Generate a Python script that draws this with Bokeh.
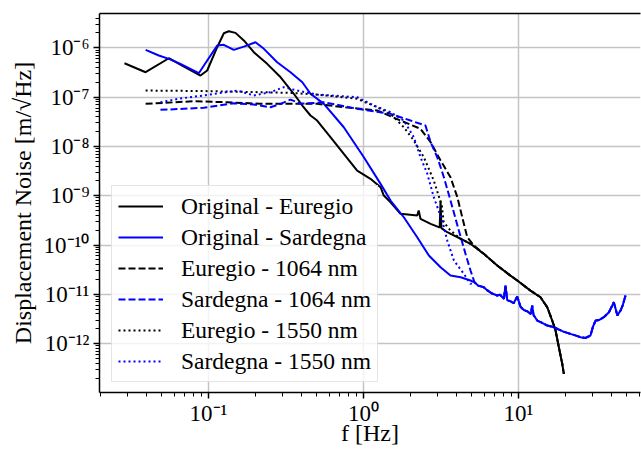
from bokeh.plotting import figure
from bokeh.models import FixedTicker, CustomJSTickFormatter, LogAxis, Range1d
from bokeh.embed import file_html
from bokeh.resources import INLINE

# ---------------- data ----------------
EU_ORIG_F = [0.0287, 0.0393, 0.0555, 0.0676, 0.0888, 0.0981, 0.1138, 0.1256, 0.1352, 0.1493,
             0.169, 0.196, 0.239, 0.292, 0.355, 0.403, 0.455, 0.502, 0.612, 0.746, 0.910,
             1.109, 1.288, 1.352, 1.494, 1.733, 2.22, 2.27, 2.33, 2.71, 3.06, 3.10, 3.14,
             3.18, 3.47, 4.23, 4.90]
EU_ORIG_N = [4.87e-7, 3.20e-7, 6.15e-7, 4.37e-7, 2.74e-7, 3.47e-7, 1.03e-6, 1.98e-6, 2.17e-6, 2.01e-6,
             1.41e-6, 8.15e-7, 4.73e-7, 2.53e-7, 1.17e-7, 6.76e-8, 4.24e-8, 3.35e-8, 1.54e-8, 7.08e-9, 3.24e-9,
             2.20e-9, 1.49e-9, 1.01e-9, 7.38e-10, 4.30e-10, 3.96e-10, 5.0e-10, 3.40e-10, 2.69e-10, 2.30e-10, 2.28e-10, 8.0e-10,
             2.2e-10, 1.82e-10, 1.34e-10, 1.06e-10]
EU_TAIL_F = [5.97, 7.29, 8.87, 9.81, 11.94, 13.86, 15.32, 16.49, 17.33, 18.20, 19.14, 19.6]
EU_TAIL_N = [6.62e-11, 3.84e-11, 2.40e-11, 1.91e-11, 1.19e-11, 8.73e-12, 5.47e-12, 2.94e-12,
             1.85e-12, 8.45e-13, 3.89e-13, 2.44e-13]

SA_ORIG_F = [0.0393, 0.0478, 0.0555, 0.0659, 0.0866, 0.0981, 0.1138, 0.1256, 0.1456, 0.169,
             0.201, 0.2277, 0.2773, 0.338, 0.403, 0.455, 0.555, 0.746, 1.005, 1.288, 1.494,
             1.82, 2.22, 2.64, 3.14, 3.64, 4.23, 4.90]
SA_ORIG_N = [9.1e-7, 6.98e-7, 5.98e-7, 4.73e-7, 3.06e-7, 5.52e-7, 1.11e-6, 1.15e-6, 9.1e-7, 1.06e-6,
             1.30e-6, 9.54e-7, 5.11e-7, 3.2e-7, 2.0e-7, 1.17e-7, 7.31e-8, 2.45e-8, 6.04e-9, 1.74e-9, 8.0e-10,
             3.66e-10, 1.44e-10, 6.12e-11, 3.55e-11, 2.4e-11, 2.22e-11, 1.91e-11]
SA_TAIL_F = [5.2, 5.5, 5.97, 6.3, 6.7, 7.29, 7.6, 8.04, 8.24, 8.45, 8.9, 9.3, 9.81, 10.3, 10.82,
             11.4, 12.0, 12.25, 12.5, 13.2, 14.0, 15.32, 16.5, 17.78, 19.5, 21.6, 23.5, 25.1, 27.0,
             29.1, 30.2, 31.4, 33.0, 35.5, 38.3, 41.2, 43.4, 45.5, 47.0, 49.0]
SA_TAIL_N = [1.75e-11, 1.5e-11, 1.39e-11, 1.2e-11, 1.05e-11, 9.45e-12, 9.8e-12, 8.09e-12, 1.51e-11,
             7.6e-12, 7.2e-12, 6.6e-12, 9.0e-12, 5.6e-12, 4.8e-12, 4.5e-12, 4.0e-12, 5.9e-12, 3.8e-12,
             2.94e-12, 2.7e-12, 2.33e-12, 2.2e-12, 2.0e-12, 1.75e-12, 1.58e-12, 1.45e-12, 1.35e-12,
             1.3e-12, 1.46e-12, 2.2e-12, 2.94e-12, 3.0e-12, 3.44e-12, 4.34e-12, 6.92e-12, 3.72e-12,
             4.69e-12, 6.0e-12, 9.45e-12]

EU_1064_F = [0.0393, 0.0804, 0.132, 0.216, 0.338, 0.502, 0.746, 1.225, 1.733, 2.33, 2.71, 3.14,
             3.64, 4.03, 4.44, 4.67, 5.15]
EU_1064_N = [7.31e-8, 8.26e-8, 7.88e-8, 7.31e-8, 7.31e-8, 7.31e-8, 6.24e-8, 5.35e-8, 3.35e-8, 2.28e-8,
             1.22e-8, 5.18e-9, 2.37e-9, 9.33e-10, 2.69e-10, 1.44e-10, 9.77e-11]

SA_1064_F = [0.049, 0.0933, 0.1456, 0.196, 0.251, 0.292, 0.338, 0.393, 0.555, 0.910, 1.494, 2.01,
             2.51, 2.71, 2.99, 3.30, 3.64, 4.12, 4.55, 4.90]
SA_1064_N = [5.52e-8, 6.07e-8, 7.52e-8, 7.08e-8, 6.24e-8, 7.31e-8, 8.93e-8, 7.31e-8, 7.88e-8, 5.8e-8,
             4.58e-8, 3.35e-8, 2.65e-8, 1.22e-8, 6.04e-9, 2.37e-9, 8.0e-10, 1.97e-10, 6.62e-11, 3.04e-11]

EU_1550_F = [0.0393, 0.0888, 0.216, 0.338, 0.455, 0.612, 0.910, 1.225, 1.494, 1.82, 2.11, 2.45,
             2.84, 3.20, 3.29, 3.64, 4.23, 4.90]
EU_1550_N = [1.36e-7, 1.33e-7, 1.26e-7, 1.22e-7, 1.15e-7, 1.06e-7, 9.25e-8, 6.24e-8, 4.58e-8, 2.45e-8,
             1.32e-8, 6.04e-9, 2.03e-9, 6.3e-10, 2.9e-10, 1.97e-10, 1.34e-10, 1.06e-10]

SA_1550_F = [0.049, 0.0659, 0.103, 0.153, 0.196, 0.251, 0.306, 0.373, 0.502, 0.910, 1.165, 1.494,
             1.82, 2.11, 2.33, 2.58, 2.84, 3.22, 3.47, 3.83, 4.44, 4.90]
SA_1550_N = [7.88e-8, 9.38e-8, 1.13e-7, 1.36e-7, 1.08e-7, 1.26e-7, 1.59e-7, 1.36e-7, 1.13e-7, 9.95e-8,
             6.76e-8, 4.94e-8, 3.35e-8, 1.54e-8, 6.04e-9, 2.78e-9, 9.33e-10, 3.14e-10, 1.23e-10, 4.85e-11,
             2.6e-11, 1.63e-11]

LABELS = ["Original - Euregio", "Original - Sardegna", "Euregio - 1064 nm",
          "Sardegna - 1064 nm", "Euregio - 1550 nm", "Sardegna - 1550 nm"]
X_MAJOR = [0.1, 1.0, 10.0]
Y_MAJOR = [1e-12, 1e-11, 1e-10, 1e-9, 1e-8, 1e-7, 1e-6]
X_TITLE = "f [Hz]"
Y_TITLE = "Displacement Noise [m/\u221aHz]"

FONT = "Liberation Serif"
BLACK = "#000000"
BLUE = "#0000ff"

x_minor = [k * 10.0 ** d for d in range(-2, 2) for k in range(2, 10)]
y_minor = [k * 10.0 ** d for d in range(-13, -5) for k in range(2, 10)]

p = figure(width=641, height=450, x_axis_type="log", y_axis_type="log",
           x_range=Range1d(0.01981, 61.2), y_range=Range1d(1.02e-13, 4.97e-6),
           output_backend="svg", toolbar_location=None,
           min_border_left=99, min_border_right=1, min_border_top=13, min_border_bottom=58)
p.outline_line_color = None
p.background_fill_color = "white"
p.border_fill_color = "white"

series = [
    (EU_ORIG_F + EU_TAIL_F, EU_ORIG_N + EU_TAIL_N, BLACK, "solid"),
    (SA_ORIG_F + SA_TAIL_F, SA_ORIG_N + SA_TAIL_N, BLUE, "solid"),
    (EU_1064_F + EU_TAIL_F, EU_1064_N + EU_TAIL_N, BLACK, "7 3"),
    (SA_1064_F + SA_TAIL_F, SA_1064_N + SA_TAIL_N, BLUE, "7 3"),
    (EU_1550_F + EU_TAIL_F, EU_1550_N + EU_TAIL_N, BLACK, "2 3"),
    (SA_1550_F + SA_TAIL_F, SA_1550_N + SA_TAIL_N, BLUE, "2 3"),
]
for (xs, ys, col, dash), lab in zip(series, LABELS):
    p.line(xs, ys, line_color=col, line_width=2, line_dash=dash, legend_label=lab)

# ticks / grid
fmt = CustomJSTickFormatter(code="""
const e = Math.round(Math.log10(tick));
const sup = {'-':'\u207b','0':'\u2070','1':'\u00b9','2':'\u00b2','3':'\u00b3','4':'\u2074',
             '5':'\u2075','6':'\u2076','7':'\u2077','8':'\u2078','9':'\u2079'};
return '10' + String(e).split('').map(c => sup[c]).join('');
""")
p.xaxis.ticker = FixedTicker(ticks=X_MAJOR, minor_ticks=x_minor)
p.yaxis.ticker = FixedTicker(ticks=Y_MAJOR, minor_ticks=y_minor)
for ax in (p.xaxis[0], p.yaxis[0]):
    ax.formatter = fmt
    ax.major_label_text_font = FONT
    ax.major_label_text_font_size = "23px"
    ax.major_label_text_color = "black"
    ax.axis_line_width = 1.5
    ax.axis_line_color = "black"
    ax.major_tick_line_width = 1.5
    ax.minor_tick_line_width = 1
    ax.major_tick_in = 0
    ax.major_tick_out = 6
    ax.minor_tick_in = 0
    ax.minor_tick_out = 4
    ax.major_label_standoff = 4
    ax.axis_label_text_font = FONT
    ax.axis_label_text_font_size = "24px"
    ax.axis_label_text_font_style = "normal"
    ax.axis_label_text_color = "black"

p.yaxis.axis_label = Y_TITLE
p.yaxis.axis_label_standoff = 5
p.xaxis.axis_label = X_TITLE
p.xaxis.major_label_standoff = 2
p.xaxis.axis_label_standoff = -9

p.xgrid.ticker = FixedTicker(ticks=X_MAJOR)
p.ygrid.ticker = FixedTicker(ticks=Y_MAJOR)
for g in (p.xgrid[0], p.ygrid[0]):
    g.grid_line_color = "#c4c4c4"
    g.grid_line_width = 1.5

top = LogAxis(ticker=FixedTicker(ticks=[]), major_label_text_font_size="0px",
              major_tick_out=0, minor_tick_out=0, major_tick_in=0, minor_tick_in=0,
              major_label_standoff=0, axis_line_width=1.5, axis_line_color="black")
p.add_layout(top, "above")

lg = p.legend[0]
lg.location = (12, 10)
lg.label_text_font = FONT
lg.label_text_font_size = "23.5px"
lg.label_text_color = "black"
lg.label_height = 28
lg.glyph_height = 28
lg.glyph_width = 45
lg.label_standoff = 18
lg.spacing = 3
lg.padding = 6
lg.margin = 0
lg.border_line_color = "#cccccc"
lg.border_line_width = 1
lg.background_fill_alpha = 0.8

open("out.html", "w").write(file_html(p, INLINE))
